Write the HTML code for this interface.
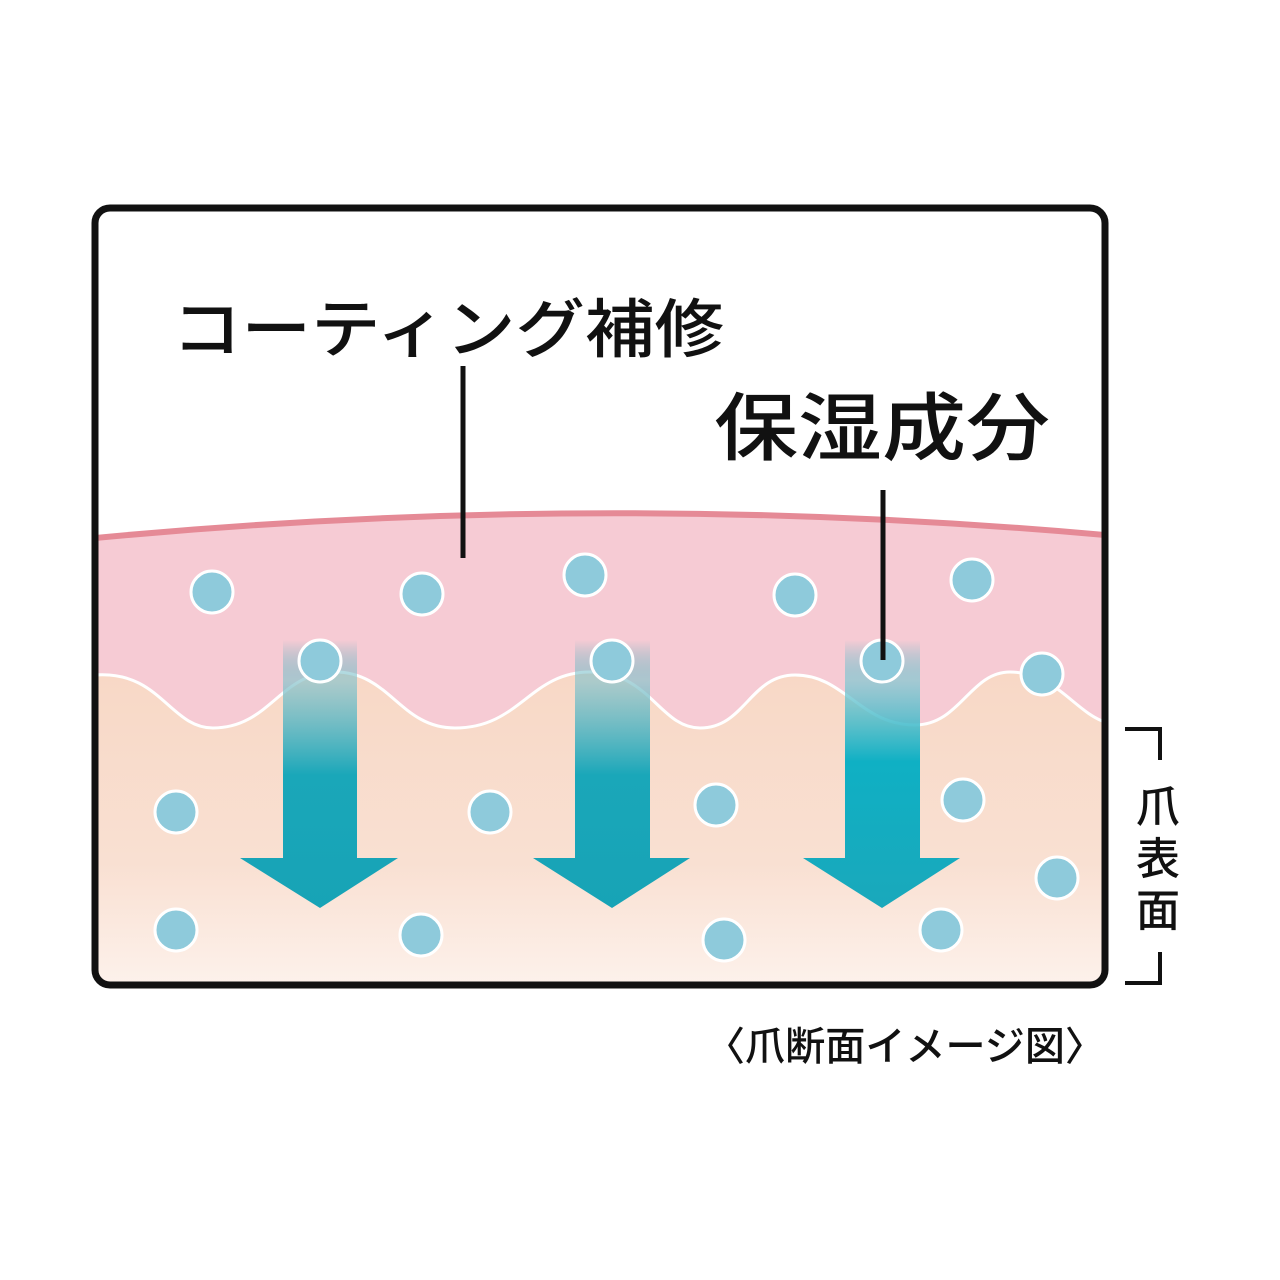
<!DOCTYPE html>
<html><head><meta charset="utf-8"><style>
html,body{margin:0;padding:0;background:#fff;}
svg{display:block;}
text{font-family:"Liberation Sans","Noto Sans CJK JP",sans-serif;font-weight:500;fill:#111;}
</style></head><body>
<svg width="1280" height="1280" viewBox="0 0 1280 1280" xmlns="http://www.w3.org/2000/svg">
<defs>
<linearGradient id="beige" x1="0" y1="0" x2="0" y2="1">
<stop offset="0" stop-color="#f8d8c6"/><stop offset="0.6" stop-color="#f9e0d2"/><stop offset="1" stop-color="#fdf2ec"/>
</linearGradient>
<linearGradient id="arr" x1="0" y1="640" x2="0" y2="910" gradientUnits="userSpaceOnUse">
<stop offset="0" stop-color="#1aa5b8" stop-opacity="0"/>
<stop offset="0.15" stop-color="#8cc4cc" stop-opacity="0.7"/>
<stop offset="0.5" stop-color="#1aa7b9"/>
<stop offset="1" stop-color="#17a3b6"/>
</linearGradient>
<linearGradient id="arr3" x1="0" y1="640" x2="0" y2="910" gradientUnits="userSpaceOnUse">
<stop offset="0" stop-color="#10b0c4" stop-opacity="0"/>
<stop offset="0.15" stop-color="#80c8d2" stop-opacity="0.7"/>
<stop offset="0.45" stop-color="#0fb0c4"/>
<stop offset="1" stop-color="#1aa8bb"/>
</linearGradient>
<clipPath id="box"><rect x="98" y="211" width="1004" height="771" rx="13"/></clipPath>
</defs>
<g clip-path="url(#box)">
<rect x="90" y="200" width="1020" height="800" fill="#fff"/>
<path d="M95,538 Q600,490 1105,535 L1105,990 L95,990 Z" fill="#f6cbd4"/>
<path d="M95,538 Q600,490 1105,535" fill="none" stroke="#e58a96" stroke-width="6"/>
<path d="M95,675 C160,670 170,728 213,728 C270,728 280,672 335,672 C390,672 400,728 455,728 C520,728 530,672 590,672 C650,672 660,728 700,728 C745,728 750,675 795,675 C845,675 860,725 915,725 C960,725 970,672 1010,672 C1055,672 1075,712 1105,722 L1105,990 L95,990 Z" fill="url(#beige)" stroke="#fff" stroke-width="3"/>
<g fill="url(#arr)">
<path d="M283,640 H357 V858 H398 L320,908 L240,858 H283 Z"/>
<path d="M575,640 H650 V858 H690 L612,908 L533,858 H575 Z"/>
</g>
<path fill="url(#arr3)" d="M845,640 H920 V858 H960 L882,908 L803,858 H845 Z"/>
<g fill="#8ecadb" stroke="#fff" stroke-width="3">
<circle cx="212" cy="592" r="21"/><circle cx="422" cy="594" r="21"/><circle cx="585" cy="575" r="21"/>
<circle cx="795" cy="595" r="21"/><circle cx="972" cy="580" r="21"/><circle cx="320" cy="661" r="21"/>
<circle cx="612" cy="661" r="21"/><circle cx="882" cy="661" r="21"/><circle cx="1042" cy="674" r="21"/>
<circle cx="176" cy="812" r="21"/><circle cx="490" cy="812" r="21"/><circle cx="716" cy="805" r="21"/>
<circle cx="963" cy="800" r="21"/><circle cx="1057" cy="878" r="21"/><circle cx="176" cy="930" r="21"/>
<circle cx="421" cy="935" r="21"/><circle cx="724" cy="940" r="21"/><circle cx="941" cy="930" r="21"/>
</g>
</g>
<rect x="95" y="208" width="1010" height="777" rx="15" fill="none" stroke="#111" stroke-width="7"/>
<line x1="463" y1="366" x2="463" y2="558" stroke="#111" stroke-width="5"/>
<line x1="883" y1="490" x2="883" y2="660" stroke="#111" stroke-width="5"/>
<text x="172" y="352" font-size="64" textLength="552" lengthAdjust="spacingAndGlyphs">コーティング補修</text>
<text x="714" y="454" font-size="74" textLength="336" lengthAdjust="spacingAndGlyphs">保湿成分</text>
<path d="M1125,729 H1160 V760" fill="none" stroke="#111" stroke-width="4"/>
<path d="M1160,952 V983 H1125" fill="none" stroke="#111" stroke-width="4"/>
<text x="1158" y="822" font-size="44" text-anchor="middle">爪</text>
<text x="1158" y="874" font-size="44" text-anchor="middle">表</text>
<text x="1158" y="926" font-size="44" text-anchor="middle">面</text>
<text x="705" y="1060" font-size="40" textLength="400" lengthAdjust="spacingAndGlyphs">〈爪断面イメージ図〉</text>
</svg>
</body></html>
